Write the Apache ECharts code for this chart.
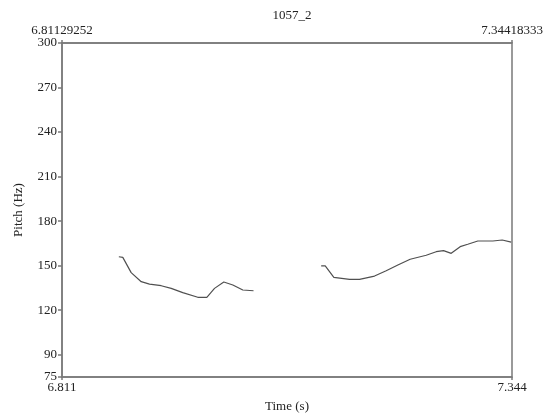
<!DOCTYPE html>
<html>
<head>
<meta charset="utf-8">
<script src="https://cdn.jsdelivr.net/npm/echarts@6/dist/echarts.min.js"></script>
<style>html,body{margin:0;padding:0;background:#fff}#c{width:545px;height:416px}</style>
</head>
<body>
<div id="c"></div>
<script>
const titleText = '1057_2';
const timeMin = 6.81129252;
const timeMax = 7.34418333;
const pitchMin = 75;
const pitchMax = 300;
const pitchTicks = [75, 90, 120, 150, 180, 210, 240, 270, 300];

const seg1Time = [6.8786, 6.8833, 6.8932, 6.9051, 6.9149, 6.9288, 6.9406, 6.9543, 6.9721, 6.9828, 6.9919, 7.0029, 7.0136, 7.0254, 7.0381];
const seg1Pitch = [156.0, 155.6, 145.3, 139.2, 137.6, 136.5, 134.7, 131.8, 128.7, 128.7, 134.7, 139.0, 137.0, 133.6, 133.1];

const seg2Time = [7.1182, 7.1230, 7.1332, 7.1518, 7.1636, 7.1814, 7.1952, 7.2090, 7.2236, 7.2426, 7.2544, 7.2631, 7.2722, 7.2828, 7.2918, 7.3037, 7.3215, 7.3326, 7.3432];
const seg2Pitch = [149.8, 149.8, 142.1, 140.8, 140.8, 143.0, 146.6, 150.4, 154.3, 157.0, 159.4, 160.1, 158.3, 162.8, 164.4, 166.6, 166.6, 167.3, 165.9];

const FONT = 'Liberation Serif';
const FS = 13;
const TXT = '#222';
const BORDER = '#7a7a7a';

const chart = echarts.init(document.getElementById('c'));
chart.setOption({
  animation: false,
  backgroundColor: '#fff',
  title: {
    text: titleText, left: 287, top: 4, textAlign: 'center',
    textStyle: { fontFamily: FONT, fontSize: FS, fontWeight: 'normal', color: TXT }
  },
  grid: { left: 62, right: 33, top: 43, bottom: 39, show: true, borderColor: BORDER, borderWidth: 1.5,
    containLabel: false, outerBoundsMode: 'none' },
  xAxis: [
    {
      type: 'value', position: 'bottom', min: timeMin, max: timeMax,
      name: 'Time (s)', nameLocation: 'middle', nameGap: 23,
      nameTextStyle: { fontFamily: FONT, fontSize: FS, color: TXT },
      axisLine: { show: true, lineStyle: { color: BORDER, width: 1.5 } },
      axisTick: { show: true, length: 3, customValues: [timeMin, timeMax], lineStyle: { color: BORDER, width: 1.5 } },
      axisLabel: { customValues: [timeMin, timeMax], margin: 4, fontFamily: FONT, fontSize: FS, color: TXT,
        formatter: v => v.toFixed(3) },
      splitLine: { show: false }
    },
    {
      type: 'value', position: 'top', min: timeMin, max: timeMax,
      axisLine: { show: true, lineStyle: { color: BORDER, width: 1.5 } },
      axisTick: { show: true, length: 3, customValues: [timeMin, timeMax], lineStyle: { color: BORDER, width: 1.5 } },
      axisLabel: { customValues: [timeMin, timeMax], margin: 6, fontFamily: FONT, fontSize: FS, color: TXT,
        formatter: v => v.toFixed(8) },
      splitLine: { show: false }
    }
  ],
  yAxis: {
    type: 'value', min: pitchMin, max: pitchMax,
    name: 'Pitch (Hz)', nameLocation: 'middle', nameGap: 37, nameRotate: 90,
    nameTextStyle: { fontFamily: FONT, fontSize: FS, color: TXT },
    axisLine: { show: true, lineStyle: { color: BORDER, width: 1.5 } },
    axisTick: { show: true, length: 4, customValues: pitchTicks, lineStyle: { color: BORDER, width: 1.5 } },
    axisLabel: { customValues: pitchTicks, margin: 5, fontFamily: FONT, fontSize: FS, color: TXT },
    splitLine: { show: false }
  },
  series: [
    {
      type: 'line', xAxisIndex: 0, showSymbol: false, symbol: 'none',
      lineStyle: { color: '#505050', width: 1.2 },
      data: seg1Time.map((t, i) => [t, seg1Pitch[i]])
    },
    {
      type: 'line', xAxisIndex: 0, showSymbol: false, symbol: 'none',
      lineStyle: { color: '#505050', width: 1.2 },
      data: seg2Time.map((t, i) => [t, seg2Pitch[i]])
    }
  ]
});
</script>
</body>
</html>
